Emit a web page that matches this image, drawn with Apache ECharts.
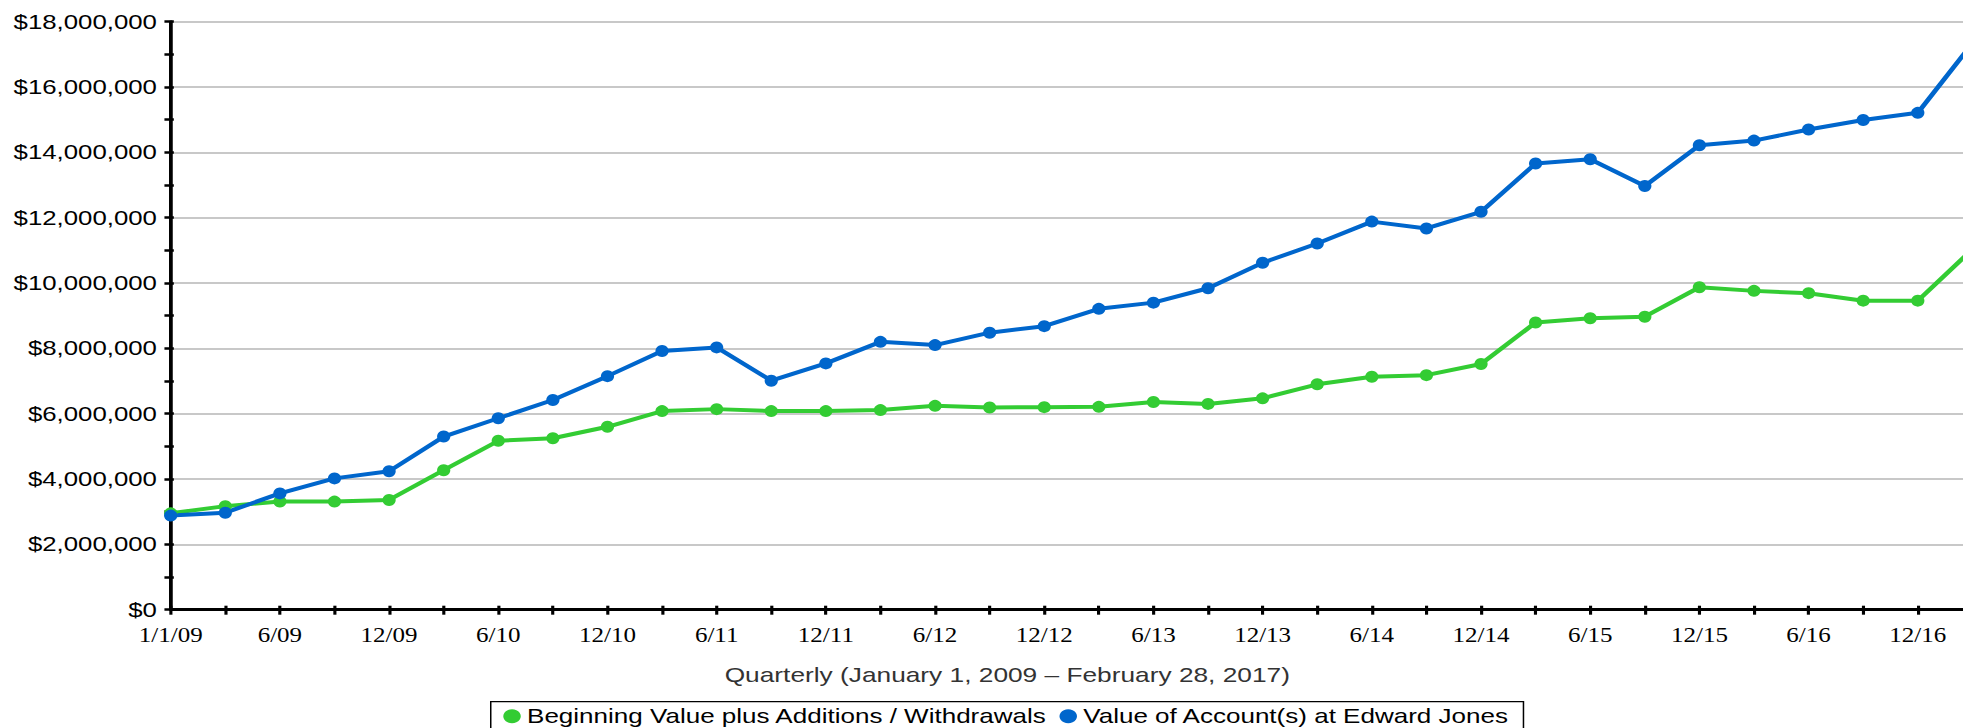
<!DOCTYPE html>
<html>
<head>
<meta charset="utf-8">
<script src="https://cdn.jsdelivr.net/npm/echarts@6/dist/echarts.min.js"></script>
<style>
  html, body { margin: 0; padding: 0; background: #fff; overflow: hidden; width: 1963px; height: 728px; }
  #chart { width: 1600px; height: 728px; transform: scaleX(1.25191); transform-origin: 0 0; }
</style>
</head>
<body>
<div id="chart"></div>
<script>
// ---- data (values in US dollars) ----
const categories = [
  "1/1/09","3/09","6/09","9/09","12/09",
  "3/10","6/10","9/10","12/10",
  "3/11","6/11","9/11","12/11",
  "3/12","6/12","9/12","12/12",
  "3/13","6/13","9/13","12/13",
  "3/14","6/14","9/14","12/14",
  "3/15","6/15","9/15","12/15",
  "3/16","6/16","9/16","12/16",
  "2/17"
];
const beginningValue = [
  2950000, 3170000, 3310000, 3310000, 3360000,
  4270000, 5170000, 5250000, 5600000,
  6080000, 6140000, 6080000, 6080000,
  6110000, 6240000, 6190000, 6200000,
  6210000, 6360000, 6300000, 6470000,
  6900000, 7130000, 7180000, 7520000,
  8790000, 8920000, 8970000, 9870000,
  9760000, 9690000, 9460000, 9460000,
  11030000
];
const accountValue = [
  2880000, 2970000, 3560000, 4020000, 4240000,
  5300000, 5860000, 6420000, 7150000,
  7920000, 8030000, 7010000, 7540000,
  8200000, 8100000, 8480000, 8680000,
  9210000, 9400000, 9840000, 10620000,
  11210000, 11880000, 11670000, 12180000,
  13660000, 13790000, 12970000, 14220000,
  14360000, 14700000, 14990000, 15210000,
  17340000
];
const seriesNames = [
  "Beginning Value plus Additions / Withdrawals",
  "Value of Account(s) at Edward Jones"
];
const axisTitle = "Quarterly (January 1, 2009 \u2013 February 28, 2017)";
const yMin = 0, yMax = 18000000, yStep = 2000000;

// ---- chart ----
const chart = echarts.init(document.getElementById('chart'), null, { renderer: 'svg' });
const sans = "'Liberation Sans', Arial, sans-serif";
const serif = "'Liberation Serif', 'Times New Roman', serif";
const tickStyle = { color: '#000', width: 2.5 };

chart.setOption({
  animation: false,
  backgroundColor: '#fff',
  grid: { left: 136.35, right: 24.5, top: 21.7, bottom: 118.3, containLabel: false, outerBoundsMode: 'none' },
  xAxis: [
    {
      type: 'category', data: categories, boundaryGap: false, position: 'bottom',
      axisLine: { show: true, onZero: false, lineStyle: { color: '#000', width: 3 } },
      axisTick: { show: true, interval: 0, length: 5, lineStyle: tickStyle },
      axisLabel: { interval: 1, margin: 16, color: '#000', fontFamily: serif, fontSize: 20 },
      splitLine: { show: false }
    },
    {
      type: 'category', data: categories, boundaryGap: false, position: 'bottom',
      axisLine: { show: false, onZero: false },
      axisTick: { show: true, inside: true, interval: 0, length: 4, lineStyle: tickStyle },
      axisLabel: { show: false },
      splitLine: { show: false }
    }
  ],
  yAxis: [
    {
      type: 'value', min: yMin, max: yMax, interval: yStep, position: 'left',
      axisLine: { show: true, lineStyle: { color: '#000', width: 3 } },
      axisTick: { show: true, length: 5, lineStyle: tickStyle },
      minorTick: { show: true, splitNumber: 2, length: 5, lineStyle: tickStyle },
      axisLabel: {
        margin: 11, color: '#000', fontFamily: sans, fontSize: 20.6,
        formatter: v => '$' + v.toLocaleString('en-US')
      },
      splitLine: { show: true, lineStyle: { color: '#c8c8c8', width: 2 } }
    },
    {
      type: 'value', min: yMin, max: yMax, interval: yStep, position: 'left',
      axisLine: { show: false },
      axisTick: { show: true, inside: true, length: 2.5, lineStyle: tickStyle },
      minorTick: { show: true, splitNumber: 2, length: 2.5, lineStyle: tickStyle },
      axisLabel: { show: false },
      splitLine: { show: false }
    }
  ],
  legend: {
    data: seriesNames,
    orient: 'horizontal',
    left: 392, top: 701.7,
    padding: [4, 11, 12, 10],
    itemWidth: 14, itemHeight: 14, itemGap: 9.5,
    icon: 'circle',
    borderColor: '#000', borderWidth: 1.2,
    backgroundColor: '#fff',
    textStyle: { color: '#000', fontFamily: sans, fontSize: 20.8 }
  },
  graphic: [
    {
      type: 'text', x: 804.6, y: 674,
      style: { text: axisTitle, fill: '#333', font: "21px 'Liberation Sans', Arial, sans-serif",
               align: 'center', verticalAlign: 'middle' }
    }
  ],
  series: [
    {
      name: seriesNames[0], type: 'line', data: beginningValue,
      xAxisIndex: 0, yAxisIndex: 0,
      symbol: 'circle', symbolSize: [10.6, 12], showSymbol: true,
      lineStyle: { color: '#33cc33', width: 4 },
      itemStyle: { color: '#33cc33' },
      emphasis: { disabled: true }
    },
    {
      name: seriesNames[1], type: 'line', data: accountValue,
      xAxisIndex: 0, yAxisIndex: 0,
      symbol: 'circle', symbolSize: [10.6, 12], showSymbol: true,
      lineStyle: { color: '#0066cc', width: 4 },
      itemStyle: { color: '#0066cc' },
      emphasis: { disabled: true }
    }
  ]
});
</script>
</body>
</html>
